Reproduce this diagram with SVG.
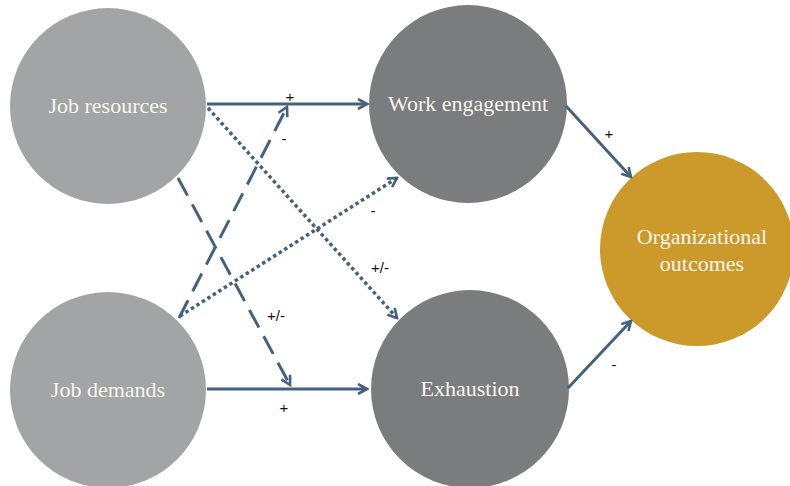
<svg xmlns="http://www.w3.org/2000/svg" width="790" height="486" viewBox="0 0 790 486">
<style>
.lt{fill:#a3a4a5}.dk{fill:#7a7c7e}.org{fill:#cc9a2a}
.nt{font-family:"Liberation Serif","Times New Roman",serif;font-size:22px;fill:#f7f5ee;text-anchor:middle}
.c{stroke:#45627c;stroke-width:3;fill:none}
.dot{stroke-dasharray:3.5 3;stroke-width:3.5}
.dash{stroke-dasharray:20 10}
.lb{font-family:"Liberation Sans",Arial,sans-serif;font-size:15px;fill:#111;text-anchor:middle}
</style>
<defs>
<marker id="ah" viewBox="0 0 12 12" refX="10" refY="6" markerWidth="12" markerHeight="12" markerUnits="userSpaceOnUse" orient="auto">
<path d="M1,1 L10,6 L1,11" fill="none" stroke="#45627c" stroke-width="2.6" stroke-dasharray="none"/>
</marker>
</defs>
<rect width="790" height="486" fill="#fff"/>
<g id="job-resources"><circle class="lt" cx="108" cy="106" r="98"/><text class="nt" x="108" y="113">Job resources</text></g>
<g id="job-demands"><circle class="lt" cx="108" cy="390" r="98"/><text class="nt" x="108" y="397">Job demands</text></g>
<g id="work-engagement"><circle class="dk" cx="468" cy="104" r="99"/><text class="nt" x="468" y="111">Work engagement</text></g>
<g id="exhaustion"><circle class="dk" cx="470" cy="389" r="99"/><text class="nt" x="470" y="396">Exhaustion</text></g>
<g id="organizational-outcomes"><circle class="org" cx="697" cy="249" r="97"/><text class="nt" x="702" y="244">Organizational</text><text class="nt" x="702" y="271">outcomes</text></g>
<g id="connectors">
<line class="c" x1="207" y1="104" x2="367" y2="104" marker-end="url(#ah)"/>
<line class="c" x1="207" y1="389" x2="367" y2="389" marker-end="url(#ah)"/>
<line class="c dot" x1="208" y1="108" x2="397" y2="318" marker-end="url(#ah)"/>
<line class="c dot" x1="180" y1="316" x2="397" y2="178" marker-end="url(#ah)"/>
<line class="c dash" x1="178" y1="178" x2="290" y2="385" marker-end="url(#ah)"/>
<line class="c dash" x1="179" y1="318" x2="287" y2="107" marker-end="url(#ah)"/>
<line class="c" x1="566" y1="106" x2="631" y2="177" marker-end="url(#ah)"/>
<line class="c" x1="568" y1="388" x2="631" y2="321" marker-end="url(#ah)"/>
<text class="lb" x="290" y="102">+</text>
<text class="lb" x="284" y="144">-</text>
<text class="lb" x="373" y="216">-</text>
<text class="lb" x="380" y="273">+/-</text>
<text class="lb" x="276" y="321">+/-</text>
<text class="lb" x="284" y="413">+</text>
<text class="lb" x="609" y="139">+</text>
<text class="lb" x="614" y="370">-</text>
</g>
</svg>
